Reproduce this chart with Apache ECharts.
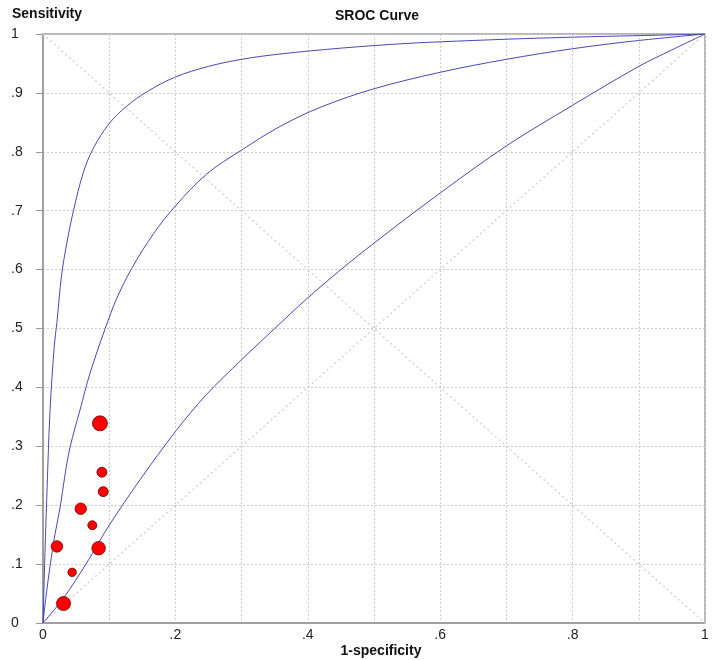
<!DOCTYPE html>
<html>
<head>
<meta charset="utf-8">
<script src="https://cdn.jsdelivr.net/npm/echarts@6/dist/echarts.min.js"></script>
<style>html,body{margin:0;padding:0;background:#fff}#c{width:720px;height:660px}</style>
</head>
<body>
<div id="c"></div>
<script>
// ---- data ----
const xTicks = [0, 0.1, 0.2, 0.3, 0.4, 0.5, 0.6, 0.7, 0.8, 0.9, 1];
const yTicks = [0, 0.1, 0.2, 0.3, 0.4, 0.5, 0.6, 0.7, 0.8, 0.9, 1];
const diagUp = [[0, 0], [1, 1]];
const diagDown = [[0, 1], [1, 0]];

// SROC curves: [1-specificity, sensitivity]
const curveOuter = [[0,0],[0.003,0.12],[0.0056,0.21],[0.0106,0.36],[0.017,0.47],[0.021,0.51],[0.028,0.59],[0.036,0.645],[0.046,0.70],[0.061,0.765],[0.076,0.806],[0.1,0.848],[0.126,0.877],[0.157,0.902],[0.2,0.927],[0.25,0.945],[0.3,0.957],[0.358,0.966],[0.45,0.976],[0.55,0.984],[0.65,0.989],[0.75,0.993],[0.85,0.996],[0.93,0.998],[1,1]];
const curveMiddle = [[0,0],[0.004,0.04],[0.0106,0.096],[0.018,0.15],[0.026,0.197],[0.033,0.25],[0.041,0.299],[0.056,0.362],[0.071,0.424],[0.094,0.50],[0.111,0.55],[0.134,0.602],[0.167,0.661],[0.2,0.708],[0.247,0.762],[0.3,0.803],[0.358,0.843],[0.42,0.876],[0.5,0.907],[0.6,0.935],[0.7,0.957],[0.8,0.975],[0.9,0.989],[1,1]];
const curveInner = [[0,0],[0.015,0.02],[0.031,0.042],[0.066,0.102],[0.1,0.166],[0.1465,0.243],[0.2,0.325],[0.247,0.388],[0.3,0.447],[0.35,0.5],[0.398,0.55],[0.45,0.60],[0.5,0.645],[0.6,0.73],[0.7,0.81],[0.8,0.879],[0.9,0.945],[0.95,0.973],[1,1]];

// studies
const studyFpr  = [0.086, 0.089, 0.091, 0.057, 0.0745, 0.021, 0.084, 0.044, 0.031];
const studySens = [0.339, 0.256, 0.223, 0.194, 0.166, 0.130, 0.127, 0.086, 0.033];
const studyWeight = [225, 100, 100, 132, 81, 132, 182, 72, 196];

// ---- chart ----
const fmt = v => {
  const r = Math.round(v * 10) / 10;
  if (r === 0) return '0';
  if (r === 1) return '1';
  return String(r).replace(/^0/, '');
};
const FONT = '"Liberation Sans", Arial, sans-serif';
const curveColor = '#4848b4';
const chart = echarts.init(document.getElementById('c'), null, {renderer: 'canvas'});
const curveSeries = (data) => ({
  type: 'line', data: data, showSymbol: false, smooth: 0.35,
  lineStyle: {color: curveColor, width: 1}, silent: true, z: 3
});
const diagSeries = (data) => ({
  type: 'line', data: data, showSymbol: false,
  lineStyle: {color: '#d4d4d4', width: 1.5, type: [2, 3]}, silent: true, z: 2
});
chart.setOption({
  animation: false,
  backgroundColor: '#fff',
  grid: {left: 43, right: 15, top: 34, bottom: 37, show: true, borderColor: '#6e6e6e', borderWidth: 1, backgroundColor: 'transparent'},
  xAxis: {
    type: 'value', min: xTicks[0], max: xTicks[xTicks.length - 1], interval: 0.1,
    axisLine: {show: true, lineStyle: {color: '#a0a0a0', width: 2}},
    axisTick: {show: false},
    axisLabel: {
      margin: 5, color: '#222', fontSize: 14, fontFamily: FONT,
      formatter: v => (Math.round(v * 10) % 2 === 0 ? fmt(v) : '')
    },
    splitLine: {show: true, lineStyle: {color: '#cccccc', width: 1, type: [2, 2]}}
  },
  yAxis: {
    type: 'value', min: yTicks[0], max: yTicks[yTicks.length - 1], interval: 0.1,
    axisLine: {show: true, lineStyle: {color: '#a0a0a0', width: 2}},
    axisTick: {show: true, length: 7, lineStyle: {color: '#999', width: 1}},
    axisLabel: {margin: 32, align: 'left', color: '#222', fontSize: 14, fontFamily: FONT, formatter: fmt},
    splitLine: {show: true, lineStyle: {color: '#cccccc', width: 1, type: [2, 2]}}
  },
  graphic: [
    {type: 'text', left: 12, top: 7, style: {text: 'Sensitivity', font: 'bold 14px ' + FONT, fill: '#111'}},
    {type: 'text', x: 377, y: 16, style: {text: 'SROC Curve', font: 'bold 14px ' + FONT, fill: '#111', textAlign: 'center', textVerticalAlign: 'middle'}},
    {type: 'text', x: 381, y: 651, style: {text: '1-specificity', font: 'bold 14px ' + FONT, fill: '#111', textAlign: 'center', textVerticalAlign: 'middle'}}
  ],
  series: [
    diagSeries(diagUp),
    diagSeries(diagDown),
    curveSeries(curveOuter),
    curveSeries(curveMiddle),
    curveSeries(curveInner),
    {
      type: 'scatter', z: 5,
      data: studyFpr.map((x, i) => [x, studySens[i], studyWeight[i]]),
      symbolSize: d => Math.sqrt(d[2]),
      itemStyle: {color: '#ff0000', borderColor: '#6a0000', borderWidth: 0.8, opacity: 1}
    }
  ]
});
</script>
</body>
</html>
